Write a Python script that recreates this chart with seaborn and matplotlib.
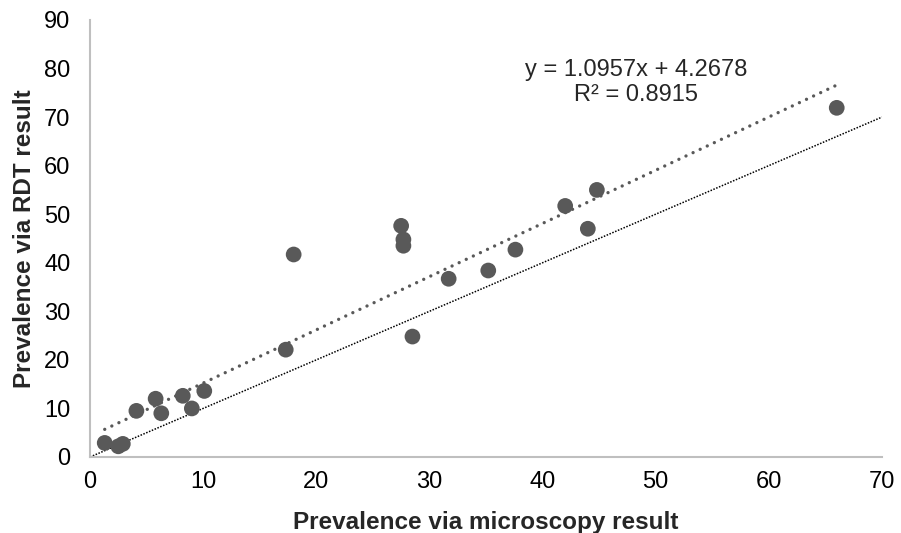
import numpy as np
import pandas as pd
import matplotlib
matplotlib.use("Agg")
import matplotlib.pyplot as plt
import seaborn as sns

# Data
microscopy = [1.3, 2.5, 2.9, 4.1, 5.8, 6.3, 8.2, 9.0, 10.1, 17.3, 18.0,
              27.5, 27.7, 27.7, 28.5, 31.7, 35.2, 37.6, 42.0, 44.0, 44.8, 66.0]
rdt = [2.9, 2.2, 2.7, 9.5, 12.0, 9.0, 12.6, 10.0, 13.6, 22.1, 41.7,
       47.6, 44.8, 43.5, 24.8, 36.7, 38.4, 42.7, 51.7, 47.0, 55.0, 71.9]
slope = 1.0957
intercept = 4.2678
r2 = 0.8915
x_ticks = [0, 10, 20, 30, 40, 50, 60, 70]
y_ticks = [0, 10, 20, 30, 40, 50, 60, 70, 80, 90]

df = pd.DataFrame({"micro": microscopy, "rdt": rdt})

sns.set_theme(style="white")
plt.rcParams["font.family"] = ["Liberation Sans", "DejaVu Sans"]

fig = plt.figure(figsize=(9.01, 5.33), dpi=100)
ax = fig.add_axes([0.0999, 0.1426, 0.879, 0.820])

# identity line
ax.plot([0, 70], [0, 70], color="black", lw=1.1, linestyle=(0, (1, 1)), zorder=1)

# trendline
xs = np.array([min(microscopy), max(microscopy)])
ax.plot(xs, slope * xs + intercept, color="#595959", lw=2.4,
        linestyle=(0, (0.01, 2.34)), dash_capstyle="round", zorder=2)

sns.scatterplot(data=df, x="micro", y="rdt", ax=ax, s=128, color="#595959",
                edgecolor="none", zorder=3)

ax.set_xlim(0, 70)
ax.set_ylim(0, 90)
ax.set_xticks(x_ticks)
ax.set_yticks(y_ticks)
ax.tick_params(axis="both", labelsize=17, length=0, colors="black")
ax.tick_params(axis="y", pad=14)
ax.tick_params(axis="x", pad=10)
for s in ["top", "right"]:
    ax.spines[s].set_visible(False)
for s in ["left", "bottom"]:
    ax.spines[s].set_color("#bfbfbf")
    ax.spines[s].set_linewidth(1.5)

ax.set_xlabel("Prevalence via microscopy result", fontsize=17.5, fontweight="bold", labelpad=13)
ax.set_ylabel("Prevalence via RDT result", fontsize=17.5, fontweight="bold", labelpad=6)

ax.text(48.3, 77.1, f"y = {slope}x + {intercept}\nR² = {r2}", fontsize=17,
        ha="center", va="center", linespacing=1.15)

fig.savefig("out.png", dpi=100)
